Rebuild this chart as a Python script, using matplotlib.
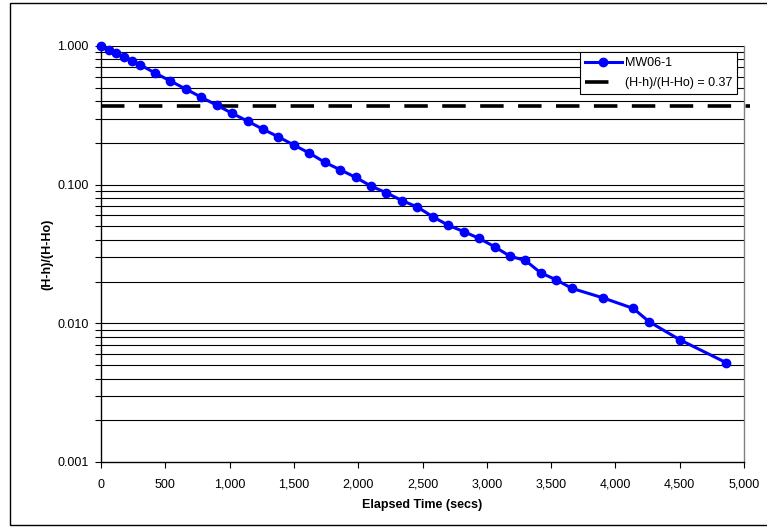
import matplotlib
matplotlib.use("Agg")
import matplotlib.pyplot as plt
from matplotlib.ticker import FixedLocator, FuncFormatter, NullFormatter
from matplotlib.patches import Rectangle
import numpy as np

plt.rcParams['font.family'] = ['Liberation Sans', 'DejaVu Sans']

# Slug test recovery, well MW06-1
elapsed_secs = [0, 60, 120, 180, 240, 300, 420, 540, 660, 780, 900, 1020, 1140,
                1260, 1380, 1500, 1620, 1740, 1860, 1980, 2100, 2220, 2340, 2460,
                2580, 2700, 2820, 2940, 3060, 3180, 3300, 3420, 3540, 3660, 3900,
                4140, 4260, 4500, 4860]
head_ratio = [1.000, 0.935, 0.884, 0.836, 0.786, 0.735, 0.639, 0.559, 0.489,
              0.427, 0.374, 0.327, 0.287, 0.251, 0.221, 0.193, 0.169, 0.145,
              0.128, 0.113, 0.0976, 0.0873, 0.0768, 0.0690, 0.0587, 0.0510,
              0.0459, 0.0410, 0.0357, 0.0305, 0.0284, 0.0231, 0.0206, 0.0179,
              0.0153, 0.0128, 0.0103, 0.00762, 0.00521]
series_name = "MW06-1"
threshold = 0.37
threshold_label = "(H-h)/(H-Ho) = 0.37"
x_ticks = [0, 500, 1000, 1500, 2000, 2500, 3000, 3500, 4000, 4500, 5000]
y_major = [0.001, 0.01, 0.1, 1.0]

W, H = 767, 527
fig = plt.figure(figsize=(W / 100, H / 100), dpi=100)
ax = fig.add_axes([101 / W, 1 - 462 / H, (744 - 101) / W, (462 - 46) / H])

ax.set_yscale('log')
ax.set_xlim(0, 5000)
ax.set_ylim(0.001, 1.0)

# horizontal grid at every decade subdivision
y_minor = [m * 10.0 ** k for k in range(-3, 0) for m in range(2, 10)]
for yv in y_minor + y_major[1:]:
    ax.axhline(yv, color='black', lw=0.8, zorder=1)

ax.axhline(threshold, xmin=0, xmax=1.01, color='black', lw=2.6,
           dashes=(6.5, 4.0), clip_on=False, zorder=3, label=threshold_label)
ax.plot(elapsed_secs, head_ratio, color='#0000FF', lw=2.2, marker='o',
        markersize=6, zorder=4, label=series_name, clip_on=False)

ax.xaxis.set_major_locator(FixedLocator(x_ticks))
ax.xaxis.set_major_formatter(FuncFormatter(lambda v, p: f"{v:,.0f}"))
ax.yaxis.set_major_locator(FixedLocator(y_major))
ax.yaxis.set_minor_locator(FixedLocator(y_minor))
ax.yaxis.set_major_formatter(FuncFormatter(lambda v, p: f"{v:.3f}"))
ax.yaxis.set_minor_formatter(NullFormatter())

ax.tick_params(axis='both', which='both', direction='out', length=4,
               width=0.8, color='black', labelsize=9, labelcolor='black')
ax.tick_params(axis='x', pad=8)
ax.tick_params(axis='y', pad=5)
for side in ['left', 'bottom']:
    ax.spines[side].set_linewidth(1.0)
    ax.spines[side].set_color('black')
ax.spines['right'].set_color('#808080')
ax.spines['right'].set_linewidth(1.0)
ax.spines['top'].set_visible(False)

ax.set_xlabel("Elapsed Time (secs)", fontsize=9, fontweight='bold', labelpad=6)
ax.set_ylabel("(H-h)/(H-Ho)", fontsize=9, fontweight='bold', labelpad=3)

handles, labels = ax.get_legend_handles_labels()
leg = ax.legend(handles[::-1], labels[::-1], loc='upper right',
                bbox_to_anchor=(737 / W, 1 - 52 / H), bbox_transform=fig.transFigure,
                borderaxespad=0, frameon=True, fancybox=False, fontsize=9,
                handlelength=3.0, handletextpad=0.2, borderpad=0.4,
                labelspacing=0.65, framealpha=1)
leg.get_frame().set_edgecolor('black')
leg.get_frame().set_linewidth(0.8)

# outer chart border (right edge runs off the canvas)
fig.patches.append(Rectangle((10 / W, 1 - 525 / H), (W + 30 - 10) / W, (525 - 3) / H,
                             transform=fig.transFigure, fill=False,
                             edgecolor='black', lw=1.0))

fig.savefig("out.png", dpi=100)
